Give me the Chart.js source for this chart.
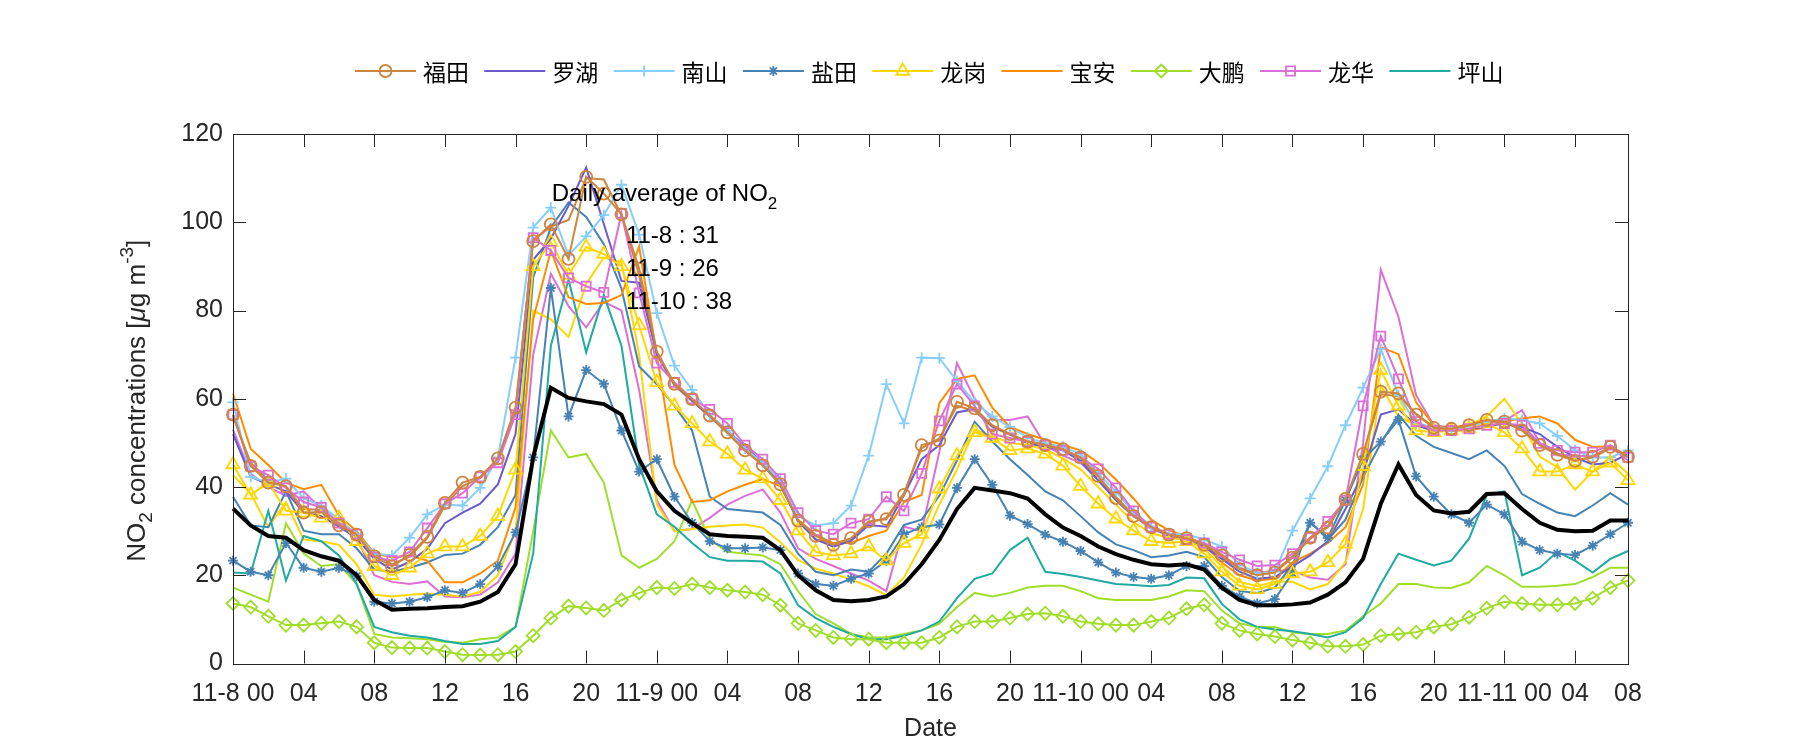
<!DOCTYPE html>
<html>
<head>
<meta charset="utf-8">
<script src="https://cdn.jsdelivr.net/npm/chart.js@4.4.0/dist/chart.umd.min.js"></script>
<style>
html,body{margin:0;padding:0;background:#fff;}
</style>
</head>
<body>
<canvas id="c" width="1800" height="750"></canvas>
<script>
// hourly NO2, 11-8 00:00 .. 11-11 07:00 (80 hours)
const futian = [56.4,44.8,41,40.2,34.2,34.3,31.3,29.2,24.3,22,24.6,
  28.7,36.4,41,42.3,46.5,58,95.7,99.5,91.7,110.3,
  106.5,101.8,89.5,70.7,63.4,59.9,56.2,52.4,48.3,44.9,
  40.6,32.4,28.9,26.9,28.4,32.2,32.7,38.2,49.5,50.5,
  59.3,57.8,54,52,50.3,49.5,48.6,46.7,42.5,37.5,
  33.4,30.9,29.2,28.4,26.9,24.5,21.4,20,20.6,24,
  28.5,30.8,37.3,47.5,61.6,61.2,56.4,53.4,53.2,54,
  55.2,54.8,52.8,49.5,47.3,45.9,46.9,49.1,46.9];
const luohu = [52,42.3,40.6,39,34.2,33.4,31,28.5,23.7,21.3,23,
  26,31.8,34.2,36.2,40.6,52,91.5,96.3,103.7,112.4,
  99.6,86.7,86.3,70.1,63.3,59.6,56,52.8,49.1,45.5,
  40.6,32.2,28.1,26.5,27.8,31.4,31,38.2,46.3,49.5,
  56.9,57.7,53.8,52,49.9,49.1,48.3,45.9,41.5,37,
  33.4,31,28.9,28.5,26.5,23.7,20.8,19.2,19.6,22,
  24.5,27.7,35,43.1,56.4,57.6,54,52.7,52.7,53.2,
  53.7,54.4,53.6,52,49.1,46.7,45.1,45.5,47.5];
const nanshan = [59.2,42.3,41,41.9,37.4,35.8,32.6,29.3,24.9,24.5,28.5,
  33.8,36,35.8,39.8,46.7,69.3,98.8,103.3,92.5,96.8,
  101.6,108.5,97.2,79.4,67.5,62,56.4,52.8,48.7,45.5,
  41.5,33.4,31.3,31.8,35.8,47.1,63.3,54.4,69.3,69.2,
  64,59.2,56,53.6,51.2,49.9,49.1,47.5,43,39,
  34.2,31,29.3,29.3,28.1,26.5,22.5,20.4,20.8,30.1,
  37.4,44.7,54,62.5,71.3,60.8,54.4,53.6,53.2,53.6,
  54.8,55.6,55.2,54.4,51.6,48.3,46.7,46.7,48.3];
const yantian = [23.3,20.8,20,27.3,21.7,20.8,21.7,19.8,14,13.6,14,
  15,16.6,16,18,22,29.7,46.7,85.1,56,66.5,
  63.4,52.8,43.5,46.3,37.8,31.9,27.7,26.1,26.1,26.3,
  25.7,20.4,18,17.6,19.2,20.4,23.3,29.3,30.9,31.5,
  39.8,46.3,40.5,33.5,31.6,29.2,27.6,25.5,22.9,20.6,
  19.6,19.2,20,22.1,22.1,17.6,15.2,13.6,14.6,20.5,
  31.9,28.5,37,46.3,50.3,55.2,42.4,37.8,33.8,31.9,
  36,33.8,27.6,25.7,24.9,24.6,26.7,29.3,31.9];
const longgang = [45.1,38.2,41,34.6,34.2,33,33,27.7,22.1,20,21.7,
  24.9,26.5,26.5,28.9,33.4,43.9,90,95.5,88,94.4,
  92.8,90,76.6,63.7,58.4,54.4,50.3,47.5,43.9,41.9,
  37,30.1,25.3,24.5,24.9,26.5,23.3,27.3,29.3,39.6,
  47.1,52.4,51.1,48.3,48.7,47.5,44.8,40.2,36.2,32.8,
  30.1,27.7,27.3,27.7,24.9,20.8,17.6,16.8,18,20.4,
  20.8,22.9,27.1,44.7,66.5,58.4,52.8,52.4,52.8,53.2,
  54.4,52.4,48.7,43.5,43.5,45.1,43.5,45.5,41.5];
const baoan = [61.2,48.7,45,41,39.5,40.5,33.5,30,25,24,24.5,
  23.3,18.4,18.4,20.4,23.3,35.4,78,93.6,83,81.5,
  81.7,83.5,94.5,70,45,36.6,37,39,40.5,41.8,
  40.2,32.6,28.1,27.3,27.3,28.9,30.1,36.6,38.2,59,
  64.5,65.3,58,53.6,52,50.7,49.5,48.3,45.5,41.7,
  37.4,32.6,30.1,28.9,26.9,22.9,20,18.8,19.2,22.9,
  24.9,27.3,30.9,40.6,71.7,70.1,59.2,54,52.8,52.8,
  53.6,54.8,55.6,56,54.4,50.7,49.1,49.1,47.1];
const dapeng = [13.6,12.8,10.7,8.7,8.7,9.1,9.5,8.3,4.7,3.6,3.5,
  3.5,2.7,2,1.9,2,2.7,6.3,10.3,13,12.6,
  12,14.4,16,17.2,17,18,17.2,16.6,16.2,15.6,
  13.2,9.1,7.5,5.9,5.5,5.5,4.7,4.7,4.7,5.9,
  8.3,9.5,9.5,10.3,11.2,11.4,10.7,9.5,9,8.7,
  8.7,9.5,10.3,12.4,13.3,9.1,7.5,6.7,6.1,5.3,
  4.7,3.9,3.9,4.3,6.3,6.7,7.1,8.3,8.9,10.5,
  12.5,14,13.6,13.3,13.3,13.6,14.8,17.2,18.8];
const longhua = [56.4,44.7,42.7,39.8,36.6,35.4,31.8,29.3,24.1,23.3,25.3,
  30.7,36.2,38.6,42.3,45.5,56.4,96.5,93.6,87.4,85.5,
  84.1,102,84,68.1,63.7,60,57.6,54.4,49.5,46.3,
  41.9,34.2,30.1,29.3,31.8,32.7,37.8,34.6,43.1,55,
  63.3,58.4,52,51.1,50.3,49.5,48.3,46.7,44.1,39.8,
  34.6,30.9,29.3,28.1,27.3,25.3,23.5,22.1,22.3,24.9,
  28.5,32.2,37,58.4,74.2,64.5,54.8,52.8,52.8,53.2,
  54,54.4,54,49.9,48.3,47.9,47.9,49.5,46.7];
const pingshan = [20.6,20.4,34.6,18.8,28.9,27.7,24.5,18,8.3,7.1,6.3,
  5.9,5.1,4.4,4.4,5.1,8.3,24.9,72,87,70.5,
  83.5,72,45,33.8,31,27.3,24.1,23.3,23.3,23.1,
  20.4,13.2,10.3,8.3,6.7,5.5,5.5,6.3,7.5,9.5,
  14.8,19.2,20.4,25.7,28.5,20.8,20.3,19.6,18.8,18,
  17.8,17.5,17.8,19.5,19.3,13.5,10,8.3,7.7,7.3,
  6.7,5.9,7.1,10.3,18,24.9,23.5,22.2,23.3,28.3,
  38.2,39,20,21.7,25.3,23.3,20.6,23.7,25.5];
// second stations (same colour, no marker, not in legend)
const yantian2 = [37.8,31.3,30.9,39,30.1,29.3,29.3,26.1,21.3,20.8,21.7,
  22.9,24.6,24.9,26.9,30.9,38.2,87.5,98.8,104.5,101.2,
  95,85,67.3,63.3,58.4,52.8,37.8,35,34.6,34.2,
  31.4,24.9,20.8,20,21.3,20.8,24.9,31.4,32.6,38,
  46,54.8,50.3,46.3,42.7,39,37,33.4,29.7,27,
  25.7,24.1,24.5,25.3,24.1,19.6,16.4,16,17.2,22.4,
  32.2,28.1,32.6,42.3,49.9,56.4,51.6,49.1,47.7,46.3,
  48.3,44.8,38.4,36.2,34.2,33.4,35.8,38.6,36];
const longgang2 = [42.7,38.5,30.9,36.6,28.1,27.7,26.9,22.5,15.6,15.2,15.6,
  15.8,15.6,15.2,16.2,20,30,80,78,74,86,
  92,91,70,36,30,30.5,31,31.3,31.5,30.8,
  27.5,23.5,21.5,20.4,19,17.5,15.5,19.5,27,36,
  44,53,51.5,50,49.5,48.5,46.5,44,40,36,
  32,29.5,28.5,28,26,22,18.5,17.5,18.5,18.5,
  16.8,18,23,35,63,56,54,53,53,54,
  56,60,54.3,46.9,44.5,39.4,43.5,46.7,43];
const dapeng2 = [17.2,15.6,14,31.8,24.9,22.1,22.5,18,6.7,5.9,5.7,
  5.5,4.9,4.7,5.5,5.9,8.3,30,52.8,46.7,47.5,
  41,24.5,21.7,23.7,27.7,37,28.1,25.3,24.9,24.5,
  22.5,16.4,11.2,9.1,6.7,5.9,5.9,6.7,7.5,9,
  12.8,16,15.2,16,17.2,17.6,17.6,16.4,14.8,14.4,
  14.4,14.4,15.2,16.6,16.4,12,9.1,8.3,8.3,7.1,
  6.7,6.7,7.5,10.7,13.6,18,18,17.2,17.1,18.4,
  22.1,20,17.4,17.4,17.6,18,19.6,21.7,21.7];
const longhua2 = [53,43,40,38,39,35,31,28.5,20,18.5,18,
  18.6,15.2,15,15.6,18.4,24.9,70,88.3,81,76.2,
  82,80,62,37,30,30.5,33,36,38,39.4,
  34.2,26.1,23.7,22.1,20.4,18.8,16.4,31,30,48,
  68.1,60,55.2,55.2,56,49.5,47.1,45.5,41.5,37.4,
  33.5,30.5,29,28.5,27,24,21.5,20.5,21,21,
  19.5,19,22.5,50,89.2,78.6,60.8,54,53.5,53.5,
  54.5,55,57.4,50,47.5,47,47,49,46];
const futian2 = [56,45.5,41.5,40,35,34.8,31.8,29.5,24.8,22.5,24.2,
  28.4,35.8,40.2,42,46,57.2,96,99,100.5,110,
  109.7,101.6,88,70.3,63,59.5,56,52.2,48.2,45,
  40.4,32.6,29.2,27.2,28.2,32,33,38.6,48.8,51,
  58.4,57.2,53.6,51.8,50.4,49.6,48.4,46.4,42.2,37.8,
  33.6,31.2,29.4,28.6,27.1,24.7,21.7,20.3,20.9,24.3,
  28.2,31.2,37,47.2,61,60.6,56.6,53.6,53.4,54.2,
  55,54.6,53,49.8,47.6,46.2,46.6,48.8,47.1];
const average = [35.1,31.3,28.9,28.5,25.7,24.3,23.3,20,14.4,12.2,12.4,
  12.5,12.8,13,14,16.2,22.5,46.7,62.5,60.2,59.4,
  58.8,56.4,46.3,39,34.6,31.8,29.3,28.9,28.7,28.5,
  25.7,20,16.6,14.4,14.1,14.4,15.2,18,22.5,28,
  35,39.8,39.2,38.6,37.4,33.8,30.8,28.9,26.5,24.8,
  23.5,22.5,22.2,22.5,21.3,17.2,14.4,13.2,13.2,13.4,
  13.8,15.6,18.4,23.7,36.2,45.1,38.2,34.7,34,34.4,
  38.4,38.6,35,31.9,30.3,30,30.1,32.4,32.4];

const tickHours = [0,4,8,12,16,20,24,28,32,36,40,44,48,52,56,60,64,68,72,76,79];
const tickLabels = ['11-8 00','04','08','12','16','20','11-9 00','04','08','12','16','20',
  '11-10 00','04','08','12','16','20','11-11 00','04','08'];
const yTicks = [0,20,40,60,80,100,120];
const names = ['福田','罗湖','南山','盐田','龙岗','宝安','大鹏','龙华','坪山'];
const dailyAvg = ['11-8 : 31','11-9 : 26','11-10 : 38'];

const colors = {
  futian:'#CD853F', luohu:'#6A5ACD', nanshan:'#87CEFA', yantian:'#4682B4', longgang:'#FFD700',
  baoan:'#FF8C00', dapeng:'#A0DE2A', longhua:'#DA70D6', pingshan:'#1FAAA2'
};
const legendItems = [
  {name:names[0], color:colors.futian, style:'circle', r:6},
  {name:names[1], color:colors.luohu, style:false, r:0},
  {name:names[2], color:colors.nanshan, style:'cross', r:5.5},
  {name:names[3], color:colors.yantian, style:'star', r:5},
  {name:names[4], color:colors.longgang, style:'triangle', r:7.5},
  {name:names[5], color:colors.baoan, style:false, r:0},
  {name:names[6], color:colors.dapeng, style:'rectRot', r:6.5},
  {name:names[7], color:colors.longhua, style:'rect', r:6.4},
  {name:names[8], color:colors.pingshan, style:false, r:0}
];

const FONT = 'Liberation Sans, Arial, sans-serif';
const CJK = '"Noto Sans CJK SC", sans-serif';
const INK = '#262626';

function xy(arr) { return arr.map((v, i) => ({x: i, y: v})); }
function line(label, arr, color, style, r, width) {
  return {
    label: label, data: xy(arr), borderColor: color, borderWidth: width || 2,
    pointStyle: style || false, pointRadius: style ? r : 0,
    pointBorderColor: color, pointBackgroundColor: 'rgba(0,0,0,0)', pointBorderWidth: 1.8,
    fill: false, tension: 0, clip: false
  };
}

// draws text runs [text, size, dy, italic] one after another
function runs(ctx, parts, x, y) {
  let cx = x;
  parts.forEach(p => {
    ctx.font = (p[3] ? 'italic ' : '') + p[1] + 'px ' + FONT;
    ctx.fillText(p[0], cx, y + p[2]);
    cx += ctx.measureText(p[0]).width;
  });
  return cx - x;
}

const frame = {
  id: 'frame',
  afterDatasetsDraw(chart) {
    const {ctx, chartArea: a, scales: {x, y}} = chart;
    ctx.save();
    ctx.strokeStyle = INK;
    ctx.lineWidth = 1;
    ctx.strokeRect(Math.round(a.left) + 0.5, Math.round(a.top) + 0.5, Math.round(a.right - a.left), Math.round(a.bottom - a.top));
    ctx.beginPath();
    tickHours.forEach(h => {
      const px = Math.round(x.getPixelForValue(h)) + 0.5;
      ctx.moveTo(px, a.bottom); ctx.lineTo(px, a.bottom - 13);
      ctx.moveTo(px, a.top); ctx.lineTo(px, a.top + 13);
    });
    yTicks.forEach(v => {
      const py = Math.round(y.getPixelForValue(v)) + 0.5;
      ctx.moveTo(a.left, py); ctx.lineTo(a.left + 13, py);
      ctx.moveTo(a.right, py); ctx.lineTo(a.right - 13, py);
    });
    ctx.stroke();

    // daily average note
    ctx.fillStyle = '#000';
    ctx.textBaseline = 'middle';
    ctx.textAlign = 'left';
    runs(ctx, [['Daily average of NO', 24, 0], ['2', 17, 10]], x.getPixelForValue(18.05), y.getPixelForValue(106.3));
    ctx.font = '24px ' + FONT;
    const lx = x.getPixelForValue(22.25);
    [96.8, 89.3, 81.9].forEach((v, i) => ctx.fillText(dailyAvg[i], lx, y.getPixelForValue(v)));

    // y axis title with sub/superscripts
    ctx.fillStyle = INK;
    const parts = [['NO', 26, 0], ['2', 19, 9], [' concentrations [', 26, 0], ['μ', 26, 0, true],
      ['g m', 26, 0], ['-3', 19, -10], [']', 26, 0]];
    ctx.translate(138, (a.top + a.bottom) / 2 + 2);
    ctx.rotate(-Math.PI / 2);
    let total = 0;
    parts.forEach(p => { ctx.font = (p[3] ? 'italic ' : '') + p[1] + 'px ' + FONT; total += ctx.measureText(p[0]).width; });
    runs(ctx, parts, -total / 2, 0);
    ctx.restore();
  },
  afterDraw(chart) {
    const ctx = chart.ctx;
    ctx.save();
    const cy = 71;
    legendItems.forEach((it, i) => {
      const x0 = 355 + i * 129.3;
      ctx.strokeStyle = it.color;
      ctx.lineWidth = 2;
      ctx.beginPath(); ctx.moveTo(x0, cy); ctx.lineTo(x0 + 61, cy); ctx.stroke();
      if (it.style) {
        ctx.fillStyle = 'rgba(0,0,0,0)';
        ctx.lineWidth = 1.8;
        Chart.helpers.drawPoint(ctx, {pointStyle: it.style, radius: it.r, rotation: 0, borderWidth: 1.8}, x0 + 30.5, cy);
      }
      ctx.fillStyle = '#000';
      ctx.font = '23px ' + CJK;
      ctx.textBaseline = 'middle';
      ctx.fillText(it.name, x0 + 68, cy + 1);
    });
    ctx.restore();
  }
};

new Chart(document.getElementById('c'), {
  type: 'line',
  data: {
    datasets: [
      line('平均', average, '#000', false, 0, 4),
      line(names[0], futian, colors.futian, 'circle', 6),
      line(names[7], longhua, colors.longhua, 'rect', 6.4),
      line(names[4], longgang, colors.longgang, 'triangle', 7.5),
      line(names[3], yantian, colors.yantian, 'star', 5),
      line(names[6], dapeng, colors.dapeng, 'rectRot', 6.5),
      line(names[2], nanshan, colors.nanshan, 'cross', 5.5),
      line(names[1], luohu, colors.luohu),
      line(names[5], baoan, colors.baoan),
      line(names[8], pingshan, colors.pingshan),
      line('福田2', futian2, colors.futian),
      line('盐田2', yantian2, colors.yantian),
      line('龙岗2', longgang2, colors.longgang),
      line('大鹏2', dapeng2, colors.dapeng),
      line('龙华2', longhua2, colors.longhua)
    ]
  },
  options: {
    responsive: false,
    animation: false,
    layout: {padding: {top: 134, right: 172, left: 0, bottom: 0}},
    plugins: {legend: {display: false}, tooltip: {enabled: false}},
    scales: {
      x: {
        type: 'linear', min: 0, max: 79,
        afterBuildTicks: s => { s.ticks = tickHours.map(v => ({value: v})); },
        ticks: {
          autoSkip: false, maxRotation: 0, padding: 16, color: INK,
          font: {family: FONT, size: 25},
          callback: v => tickLabels[tickHours.indexOf(v)]
        },
        grid: {display: false, drawTicks: false},
        border: {display: false},
        title: {display: true, text: 'Date', color: INK, font: {family: FONT, size: 25}, padding: {top: 0, bottom: 6}},
        afterFit: s => { s.height = 86.5; }
      },
      y: {
        min: 0, max: 120,
        afterBuildTicks: s => { s.ticks = yTicks.map(v => ({value: v})); },
        ticks: {padding: 10, color: INK, font: {family: FONT, size: 25}},
        grid: {display: false, drawTicks: false},
        border: {display: false},
        afterFit: s => { s.width = 233; }
      }
    }
  },
  plugins: [frame]
});
</script>
</body>
</html>
